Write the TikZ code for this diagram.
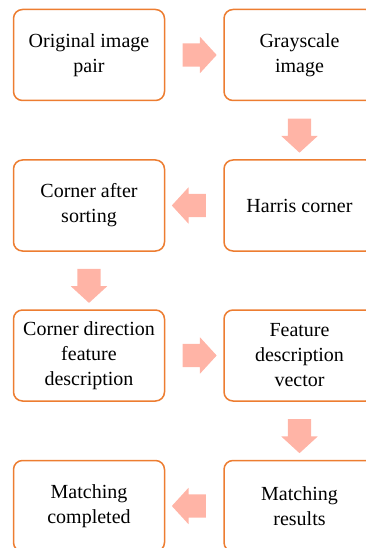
\documentclass[tikz,border=0pt]{standalone}
\usepackage{fontspec}
\setmainfont{Liberation Serif}
\usetikzlibrary{shapes.arrows,calc}
\definecolor{boxorange}{RGB}{237,125,49}
\definecolor{arrowpink}{RGB}{255,180,166}
\tikzset{
  stepbox/.style={draw=boxorange, line width=1.5pt, rounded corners=9pt, fill=white,
    minimum width=151pt, minimum height=91pt, align=center, inner sep=2pt,
    font=\fontsize{20}{25}\selectfont},
  blockarrow/.style={single arrow, fill=arrowpink, draw=none, inner sep=11.5pt,
    minimum height=32pt, single arrow head extend=6.5pt, single arrow tip angle=95},
}
\begin{document}
\begin{tikzpicture}[x=1pt,y=-1pt]
\useasboundingbox (0,0) rectangle (365,548);
\node[stepbox] (orig) at (89,55) {Original image\\pair};
\node[stepbox] (gray) at (299.5,55) {Grayscale\\image};
\node[stepbox] (harris) at (299.5,205.5) {Harris corner};
\node[stepbox] (sort) at (89,205.5) {Corner after\\sorting};
\node[stepbox] (dir) at (89,355.5) {Corner direction\\feature\\description};
\node[stepbox] (vec) at (299.5,355.5) {Feature\\description\\vector};
\node[stepbox] (res) at (299.5,506) {Matching\\results};
\node[stepbox] (done) at (89,506) {Matching\\completed};
\node[blockarrow] (a1) at ($(orig.east)!0.5!(gray.west)$) {};
\node[blockarrow, rotate=-90] (a2) at ($(gray.south)!0.5!(harris.north)$) {};
\node[blockarrow, rotate=180] (a3) at ($(harris.west)!0.5!(sort.east)$) {};
\node[blockarrow, rotate=-90] (a4) at ($(sort.south)!0.5!(dir.north)$) {};
\node[blockarrow] (a5) at ($(dir.east)!0.5!(vec.west)$) {};
\node[blockarrow, rotate=-90] (a6) at ($(vec.south)!0.5!(res.north)$) {};
\node[blockarrow, rotate=180] (a7) at ($(res.west)!0.5!(done.east)$) {};
\end{tikzpicture}
\end{document}
